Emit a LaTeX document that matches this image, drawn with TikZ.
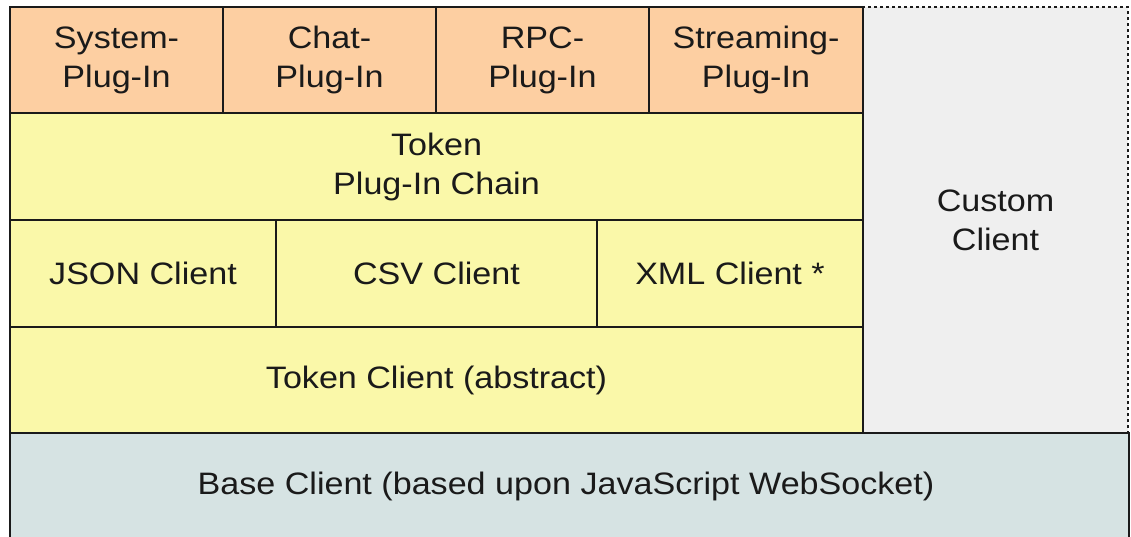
\documentclass[tikz,border=0pt]{standalone}
\usepackage{fontspec}
\setmainfont[FakeStretch=1.1]{Liberation Sans}
\definecolor{plugfill}{HTML}{FDCFA2}
\definecolor{yelfill}{HTML}{FAF8A9}
\definecolor{custfill}{HTML}{EFEFEF}
\definecolor{basefill}{HTML}{D6E3E3}
\definecolor{linec}{HTML}{1A1A1A}
\begin{document}
\begin{tikzpicture}[x=1pt,y=-1pt,
  cell/.style={draw=linec, line width=2pt, inner sep=0pt, align=center,
    font=\fontsize{31}{39}\selectfont, text=linec},
  plug/.style={cell, fill=plugfill},
  yel/.style={cell, fill=yelfill},
  cust/.style={cell, fill=custfill, line width=2.2pt, dash pattern=on 3pt off 3pt},
  basebox/.style={cell, fill=basefill}]
\useasboundingbox (0,0) rectangle (1131,537);
\clip (0,0) rectangle (1131,537);
% custom client (dashed), drawn first
\node[cust, minimum width=265pt, minimum height=426pt] (custom) at (995.5,220) {Custom\\Client};
% plug-ins
\node[plug, minimum width=213pt, minimum height=106pt] (sys) at (116.5,60) {System-\\Plug-In};
\node[plug, minimum width=213pt, minimum height=106pt] (chat) at (329.5,60) {Chat-\\Plug-In};
\node[plug, minimum width=213pt, minimum height=106pt] (rpc) at (542.5,60) {RPC-\\Plug-In};
\node[plug, minimum width=214pt, minimum height=106pt] (stream) at (756,60) {Streaming-\\Plug-In};
% token plug-in chain
\node[yel, minimum width=853pt, minimum height=107pt] (chain) at (436.5,166.5) {Token\\Plug-In Chain};
% clients
\node[yel, minimum width=266pt, minimum height=107pt] (json) at (143,273.5) {JSON Client};
\node[yel, minimum width=321pt, minimum height=107pt] (csv) at (436.5,273.5) {CSV Client};
\node[yel, minimum width=266pt, minimum height=107pt] (xml) at (730,273.5) {XML Client *};
% token client
\node[yel, minimum width=853pt, minimum height=106pt] (tclient) at (436.5,380) {Token Client (abstract)};
% base client
\node[basebox, minimum width=1119pt, minimum height=114pt] (base) at (569.5,490) {};
\node[font=\fontsize{31}{39}\selectfont, text=linec, anchor=center] (basetxt) at (566,486) {Base Client (based upon JavaScript WebSocket)};
\end{tikzpicture}
\end{document}
